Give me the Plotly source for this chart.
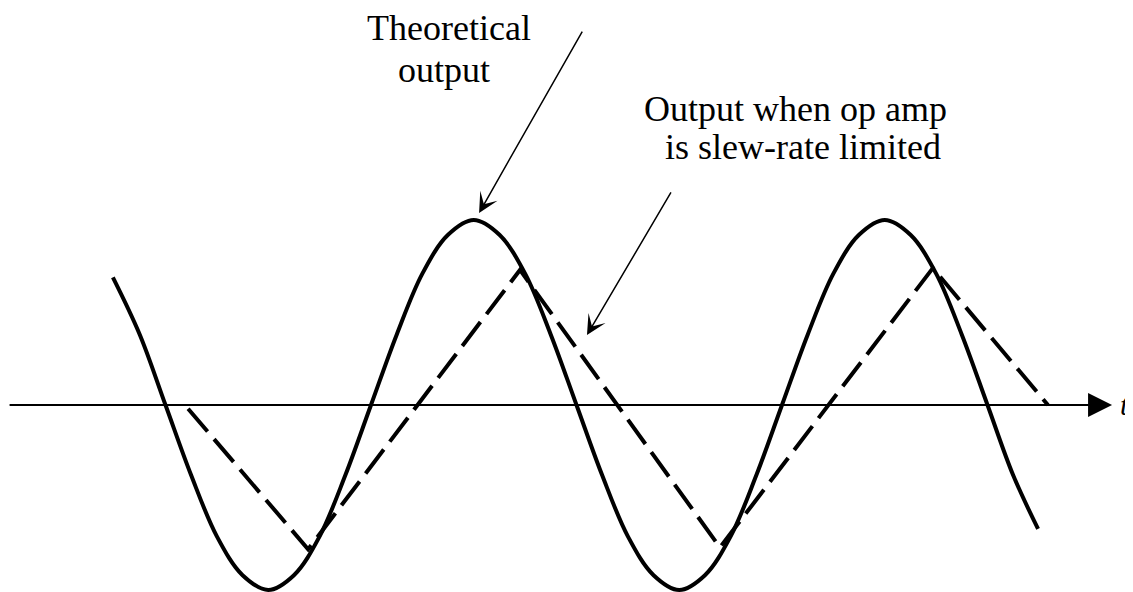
import plotly.graph_objects as go

# ---- data (time in periods of the input signal, amplitude normalised) ----
sine_t = [-0.628, -0.5625, -0.5, -0.4375, -0.375, -0.3125, -0.25, -0.1875, -0.125, -0.0625,
          0.0, 0.0625, 0.125, 0.1875, 0.25, 0.3125, 0.375, 0.4375,
          0.5, 0.5625, 0.625, 0.6875, 0.75, 0.8125, 0.875, 0.9375,
          1.0, 1.0625, 1.125, 1.1875, 1.25, 1.3125, 1.375, 1.4375,
          1.5, 1.5625, 1.623]
sine_v = [0.69, 0.38, 0.0, -0.38, -0.71, -0.92, -1.0, -0.92, -0.71, -0.38,
          0.0, 0.38, 0.71, 0.92, 1.0, 0.92, 0.71, 0.38,
          0.0, -0.38, -0.71, -0.92, -1.0, -0.92, -0.71, -0.38,
          0.0, 0.38, 0.71, 0.92, 1.0, 0.92, 0.71, 0.38,
          0.0, -0.38, -0.67]

slew_t = [-0.445, -0.153, 0.3625, 0.849, 1.367, 1.647]
slew_v = [-0.02, -0.78, 0.73, -0.77, 0.74, 0.0]

axis_start_t = -0.883
axis_end_t = 1.803
x_range = [-0.8832, 1.854]
y_range = [-1.011, 2.146]

label_theory = ["Theoretical", "output"]
label_slew = ["Output when op amp", "is slew-rate limited"]
axis_label = "t"

SERIF = "Liberation Serif, Times New Roman, serif"

fig = go.Figure()
fig.add_trace(go.Scatter(x=sine_t, y=sine_v, mode="lines",
                         line=dict(color="black", width=4, shape="spline", smoothing=1.0),
                         hoverinfo="skip", showlegend=False))
fig.add_trace(go.Scatter(x=slew_t, y=slew_v, mode="lines",
                         line=dict(color="black", width=4, dash="30px,10px"),
                         hoverinfo="skip", showlegend=False))

annotations = []
# horizontal time axis with arrow
annotations.append(dict(x=axis_end_t, y=0, ax=axis_start_t, ay=0, xref="x", yref="y",
                        axref="x", ayref="y", showarrow=True, arrowhead=2, arrowsize=2.4,
                        arrowwidth=2, arrowcolor="black", text=""))
annotations.append(dict(x=1.818, y=0, xref="x", yref="y", text=axis_label, showarrow=False,
                        xanchor="left", yanchor="middle",
                        font=dict(family=SERIF, size=30, color="black", style="italic")))
# pointer arrows
annotations.append(dict(x=0.263, y=1.038, ax=0.516, ay=2.027, xref="x", yref="y",
                        axref="x", ayref="y", showarrow=True, arrowhead=3, arrowsize=2.2,
                        arrowwidth=1.5, arrowcolor="black", text=""))
annotations.append(dict(x=0.5255, y=0.378, ax=0.732, ay=1.157, xref="x", yref="y",
                        axref="x", ayref="y", showarrow=True, arrowhead=3, arrowsize=2.2,
                        arrowwidth=1.5, arrowcolor="black", text=""))
# labels
annotations.append(dict(x=0.19, y=2.040, xref="x", yref="y", text=label_theory[0],
                        showarrow=False, xanchor="center", yanchor="middle",
                        font=dict(family=SERIF, size=36, color="black")))
annotations.append(dict(x=0.178, y=1.811, xref="x", yref="y", text=label_theory[1],
                        showarrow=False, xanchor="center", yanchor="middle",
                        font=dict(family=SERIF, size=36, color="black")))
annotations.append(dict(x=0.659, y=1.60, xref="x", yref="y", text=label_slew[0],
                        showarrow=False, xanchor="left", yanchor="middle",
                        font=dict(family=SERIF, size=36, color="black")))
annotations.append(dict(x=0.710, y=1.395, xref="x", yref="y", text=label_slew[1],
                        showarrow=False, xanchor="left", yanchor="middle",
                        font=dict(family=SERIF, size=36, color="black")))

fig.update_layout(
    width=1125, height=584,
    margin=dict(l=0, r=0, t=0, b=0),
    paper_bgcolor="white", plot_bgcolor="white",
    xaxis=dict(range=x_range, visible=False, fixedrange=True),
    yaxis=dict(range=y_range, visible=False, fixedrange=True),
    annotations=annotations,
    showlegend=False,
)
fig.write_html("out.html")
